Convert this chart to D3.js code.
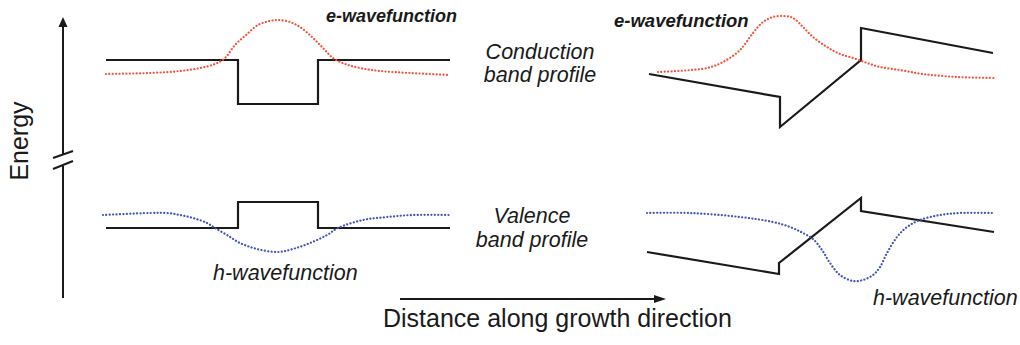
<!DOCTYPE html>
<html>
<head>
<meta charset="utf-8">
<script src="https://cdn.jsdelivr.net/npm/d3@7"></script>
<style>
  html, body { margin: 0; padding: 0; background: #fff; }
  svg { display: block; font-family: "Liberation Sans", Arial, sans-serif; }
</style>
</head>
<body>
<svg id="chart" width="1020" height="345"></svg>
<script>
// Positions along the growth direction in nm (0 = well centre), energies in arbitrary units.

// Square quantum well (left)
const squareConduction = [[-8.6, 23.8], [-2, 23.8], [-2, 19.4], [2, 19.4], [2, 23.8], [8.6, 23.8]];
const squareValence    = [[-8.6, 7.0], [-2, 7.0], [-2, 9.6], [2, 9.6], [2, 7.0], [8.6, 7.0]];
const squareElectron = [
  [-8.6, 22.4], [-6.4, 22.5], [-4.9, 22.7], [-3.9, 23.0], [-3.15, 23.4], [-2.65, 24.0],
  [-2.15, 25.3], [-1.6, 26.3], [-1.0, 27.3], [-0.4, 27.7], [0, 27.8], [0.6, 27.6],
  [1.1, 27.1], [1.7, 26.1], [2.2, 25.1], [2.75, 24.0], [3.35, 23.4], [4.1, 23.0],
  [5.1, 22.7], [6.6, 22.5], [8.6, 22.3]
];
const squareHole = [
  [-8.75, 8.3], [-6.4, 8.5], [-5.55, 8.5], [-4.9, 8.3], [-4.25, 8.0], [-3.55, 7.5],
  [-3.15, 7.0], [-2.55, 6.3], [-1.9, 5.5], [-1.05, 4.9], [0, 4.6], [0.75, 4.9],
  [1.6, 5.5], [2.45, 6.3], [3.0, 7.0], [4.25, 7.8], [5.45, 8.1], [6.75, 8.3], [8.6, 8.3]
];

// Polarised (tilted) quantum well (right)
const tiltedConduction = [[-8.55, 22.4], [-2.0, 20.1], [-2.0, 17.1], [2.05, 23.8], [2.05, 27.0], [8.65, 24.5]];
const tiltedValence    = [[-8.65, 4.6], [-2.05, 2.4], [-2.05, 3.5], [2.05, 10.0], [2.05, 8.7], [8.7, 6.6]];
const tiltedElectron = [
  [-8.1, 22.6], [-5.65, 23.0], [-4.85, 23.6], [-4.0, 24.8], [-3.35, 26.5], [-2.85, 27.6],
  [-2.35, 28.1], [-1.85, 28.2], [-1.35, 28.0], [-0.85, 27.1], [-0.35, 26.1], [0.35, 25.1],
  [1.0, 24.4], [1.65, 24.0], [2.35, 23.5], [3.0, 23.1], [4.0, 22.8], [5.15, 22.4],
  [6.85, 22.1], [8.7, 22.0]
];
const tiltedHole = [
  [-8.65, 8.5], [-6.5, 8.5], [-4.0, 8.1], [-2.35, 7.6], [-1.5, 7.1], [-0.85, 6.5],
  [-0.35, 5.9], [0.1, 4.8], [0.5, 3.5], [1.0, 2.3], [1.65, 1.7], [2.15, 1.8],
  [2.65, 2.3], [3.0, 3.1], [3.35, 4.5], [3.85, 6.1], [4.35, 7.1], [5.0, 7.8],
  [6.0, 8.3], [7.0, 8.5], [8.65, 8.5]
];

const svg = d3.select("#chart");
const ink = "#1a1a1a";
const red = "#f2553d";
const blue = "#4355b5";

const y = d3.scaleLinear().domain([0, 28]).range([298, 18]);
const xLeft = d3.scaleLinear().domain([-8.6, 8.6]).range([106, 450]);
const xRight = d3.scaleLinear().domain([-8.6, 8.7]).range([648, 994]);

function drawPanel(x, band, wave, colour) {
  const straight = d3.line().x(d => x(d[0])).y(d => y(d[1]));
  const smooth = d3.line().x(d => x(d[0])).y(d => y(d[1])).curve(d3.curveCatmullRom.alpha(0.5));
  svg.append("path").attr("d", straight(band))
    .attr("fill", "none").attr("stroke", ink).attr("stroke-width", 2.2)
    .attr("stroke-linejoin", "miter");
  svg.append("path").attr("d", smooth(wave))
    .attr("fill", "none").attr("stroke", colour).attr("stroke-width", 2.2)
    .attr("stroke-linecap", "round").attr("stroke-dasharray", "0.1,3.3");
}

drawPanel(xLeft, squareConduction, squareElectron, red);
drawPanel(xLeft, squareValence, squareHole, blue);
drawPanel(xRight, tiltedConduction, tiltedElectron, red);
drawPanel(xRight, tiltedValence, tiltedHole, blue);

// Energy axis with a break
const ax = 63;
svg.append("line").attr("x1", ax).attr("x2", ax).attr("y1", 26).attr("y2", 155)
  .attr("stroke", ink).attr("stroke-width", 2);
svg.append("line").attr("x1", ax).attr("x2", ax).attr("y1", 166).attr("y2", 298)
  .attr("stroke", ink).attr("stroke-width", 2);
svg.append("path").attr("d", `M${ax},17 L${ax - 4.5},27 L${ax + 4.5},27 Z`).attr("fill", ink);
[[158, 151], [169, 161]].forEach(([ya, yb]) => {
  svg.append("line").attr("x1", 53).attr("y1", ya).attr("x2", 73).attr("y2", yb)
    .attr("stroke", ink).attr("stroke-width", 2);
});

// Growth-direction arrow
svg.append("line").attr("x1", 400).attr("x2", 655).attr("y1", 299).attr("y2", 299)
  .attr("stroke", ink).attr("stroke-width", 2);
svg.append("path").attr("d", "M666,299 L654,295 L654,303 Z").attr("fill", ink);

// Labels
function label(text, x, yy, size, opts = {}) {
  return svg.append("text").attr("x", x).attr("y", yy).text(text)
    .attr("font-size", size).attr("fill", ink)
    .attr("font-style", opts.italic ? "italic" : "normal")
    .attr("font-weight", opts.bold ? "bold" : "normal")
    .attr("text-anchor", opts.anchor || "start");
}

svg.append("text").text("Energy")
  .attr("transform", "translate(28,141) rotate(-90)")
  .attr("text-anchor", "middle").attr("font-size", 25).attr("fill", ink);

label("e-wavefunction", 326, 22, 18, { italic: true, bold: true });
label("e-wavefunction", 614, 27, 18.5, { italic: true, bold: true });
label("Conduction", 540, 59, 21.5, { italic: true, anchor: "middle" });
label("band profile", 540, 82, 21.5, { italic: true, anchor: "middle" });
label("Valence", 532, 223, 21.5, { italic: true, anchor: "middle" });
label("band profile", 532, 247, 21.5, { italic: true, anchor: "middle" });
label("h-wavefunction", 213, 280, 21.5, { italic: true });
label("h-wavefunction", 873, 305, 21.5, { italic: true });
label("Distance along growth direction", 383, 327, 25);
</script>
</body>
</html>
